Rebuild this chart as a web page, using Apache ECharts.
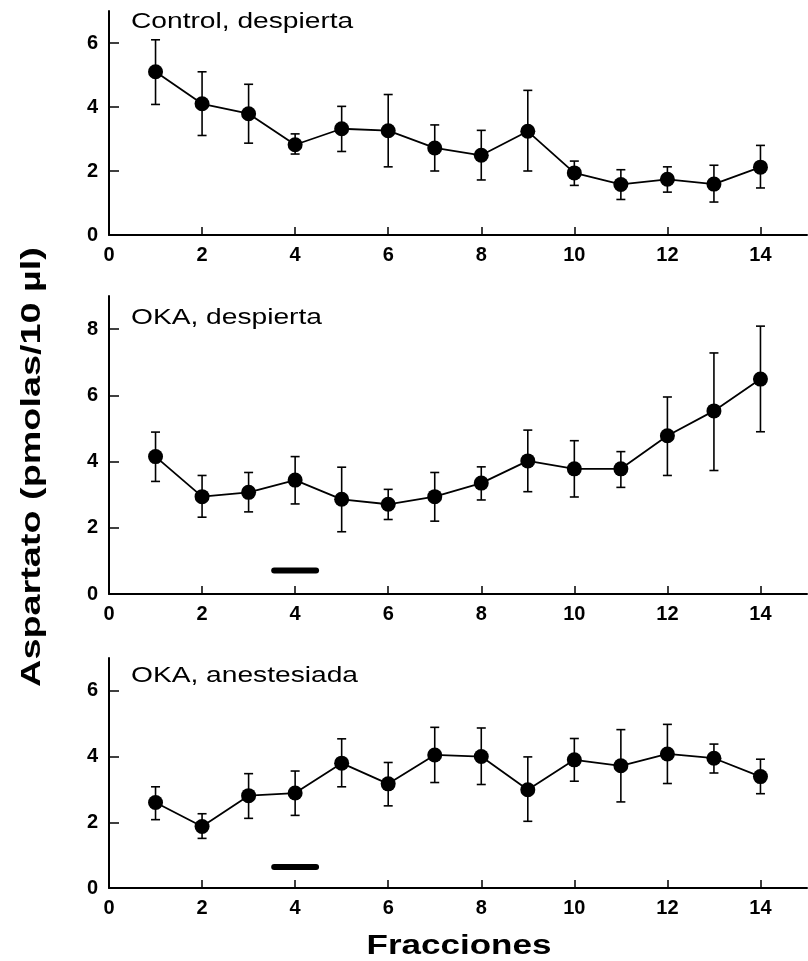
<!DOCTYPE html>
<html>
<head>
<meta charset="utf-8">
<script src="https://cdn.jsdelivr.net/npm/echarts@6/dist/echarts.min.js"></script>
<style>
  html, body { margin: 0; padding: 0; background: #fff; }
  #chart { width: 808px; height: 961px; }
</style>
</head>
<body>
<div id="chart"></div>
<script>
// fractions on the x axis
const fractions = [1, 2, 3, 4, 5, 6, 7, 8, 9, 10, 11, 12, 13, 14];
const xTicks = [0, 2, 4, 6, 8, 10, 12, 14];

// panel titles and y tick labels
const panelTitles = ['Control, despierta', 'OKA, despierta', 'OKA, anestesiada'];
const yTicksTop = [0, 2, 4, 6];
const yTicksMid = [0, 2, 4, 6, 8];
const yTicksBottom = [0, 2, 4, 6];

// Control, despierta
const controlMean = [5.10, 4.10, 3.79, 2.82, 3.32, 3.26, 2.72, 2.49, 3.24, 1.94, 1.58, 1.74, 1.59, 2.12];
const controlHigh = [6.10, 5.10, 4.71, 3.16, 4.02, 4.39, 3.44, 3.27, 4.52, 2.31, 2.04, 2.13, 2.18, 2.80];
const controlLow = [4.08, 3.11, 2.87, 2.53, 2.61, 2.13, 2.00, 1.72, 2.00, 1.55, 1.11, 1.34, 1.03, 1.47];

// OKA, despierta
const okaMean = [4.15, 2.94, 3.07, 3.44, 2.86, 2.71, 2.94, 3.35, 4.02, 3.78, 3.78, 4.78, 5.53, 6.49];
const okaHigh = [4.89, 3.58, 3.67, 4.15, 3.83, 3.16, 3.67, 3.84, 4.95, 4.63, 4.30, 5.95, 7.28, 8.09];
const okaLow = [3.40, 2.32, 2.48, 2.72, 1.88, 2.25, 2.20, 2.84, 3.09, 2.93, 3.22, 3.58, 3.73, 4.90];

// OKA, anestesiada
const anesMean = [2.60, 1.87, 2.81, 2.89, 3.80, 3.17, 4.05, 4.00, 2.99, 3.90, 3.72, 4.08, 3.95, 3.39];
const anesHigh = [3.08, 2.26, 3.48, 3.56, 4.54, 3.82, 4.89, 4.87, 3.99, 4.55, 4.82, 4.98, 4.38, 3.92];
const anesLow = [2.08, 1.51, 2.12, 2.21, 3.08, 2.50, 3.21, 3.15, 2.03, 3.25, 2.62, 3.18, 3.50, 2.87];

// OKA application bar (fraction range and height)
const stimulusRange = [3.55, 4.45];
const stimulusLevelMid = 0.71;
const stimulusLevelBottom = 0.64;

const FONT = 'Liberation Sans';

const grids = [
  { left: 109, right: 1, top: 11, height: 224 },
  { left: 109, right: 1, top: 296, height: 298 },
  { left: 109, right: 1, top: 658, height: 230 },
];

function xAxisFor(i) {
  return {
    gridIndex: i,
    type: 'value',
    min: 0,
    max: 15,
    axisLine: { lineStyle: { color: '#000', width: 2 } },
    axisTick: { inside: true, length: 8, customValues: xTicks, lineStyle: { color: '#000', width: 1.5 } },
    axisLabel: { customValues: xTicks, margin: 10, fontSize: 20, fontWeight: 'bold', color: '#000', fontFamily: FONT },
    splitLine: { show: false },
  };
}

function yAxisFor(i, max, ticks) {
  return {
    gridIndex: i,
    type: 'value',
    min: 0,
    max: max,
    axisLine: { show: true, lineStyle: { color: '#000', width: 2 } },
    axisTick: { show: true, inside: true, length: 10, customValues: ticks, lineStyle: { color: '#000', width: 1.5 } },
    axisLabel: { customValues: ticks, margin: 11, fontSize: 20, fontWeight: 'bold', color: '#000', fontFamily: FONT },
    splitLine: { show: false },
  };
}

function errorBars(i, low, high) {
  return {
    type: 'custom',
    xAxisIndex: i,
    yAxisIndex: i,
    z: 2,
    data: fractions.map((f, k) => [f, low[k], high[k]]),
    renderItem: (params, api) => {
      const top = api.coord([api.value(0), api.value(2)]);
      const bot = api.coord([api.value(0), api.value(1)]);
      const w = 4.5;
      const style = { stroke: '#000', lineWidth: 1.6 };
      return {
        type: 'group',
        children: [
          { type: 'line', shape: { x1: top[0], y1: top[1], x2: bot[0], y2: bot[1] }, style },
          { type: 'line', shape: { x1: top[0] - w, y1: top[1], x2: top[0] + w, y2: top[1] }, style },
          { type: 'line', shape: { x1: bot[0] - w, y1: bot[1], x2: bot[0] + w, y2: bot[1] }, style },
        ],
      };
    },
  };
}

function meanLine(i, mean) {
  return {
    type: 'line',
    xAxisIndex: i,
    yAxisIndex: i,
    z: 3,
    data: fractions.map((f, k) => [f, mean[k]]),
    symbol: 'circle',
    symbolSize: 15,
    itemStyle: { color: '#000' },
    lineStyle: { color: '#000', width: 1.8 },
    animation: false,
  };
}

function stimulusBar(i, level) {
  return {
    type: 'line',
    xAxisIndex: i,
    yAxisIndex: i,
    data: stimulusRange.map((x) => [x, level]),
    symbol: 'none',
    lineStyle: { color: '#000', width: 6, cap: 'round' },
    animation: false,
  };
}

function label(text, x, y, size, weight, scaleX, extra) {
  return Object.assign({
    type: 'text', x: x, y: y, scaleX: scaleX,
    style: {
      text: text, fontSize: size, fontFamily: FONT, fontWeight: weight,
      fill: '#000', verticalAlign: 'middle',
    },
  }, extra || {});
}

const option = {
  backgroundColor: '#fff',
  animation: false,
  grid: grids,
  xAxis: [xAxisFor(0), xAxisFor(1), xAxisFor(2)],
  yAxis: [yAxisFor(0, 7, yTicksTop), yAxisFor(1, 9, yTicksMid), yAxisFor(2, 7, yTicksBottom)],
  series: [
    errorBars(0, controlLow, controlHigh),
    meanLine(0, controlMean),
    errorBars(1, okaLow, okaHigh),
    meanLine(1, okaMean),
    stimulusBar(1, stimulusLevelMid),
    errorBars(2, anesLow, anesHigh),
    meanLine(2, anesMean),
    stimulusBar(2, stimulusLevelBottom),
  ],
  graphic: [
    label(panelTitles[0], 131, 22, 22, 'normal', 1.28),
    label(panelTitles[1], 131, 318, 22, 'normal', 1.28),
    label(panelTitles[2], 131, 676, 22, 'normal', 1.28),
    (function () {
      const t = label('Fracciones', 459, 946, 28, 'bold', 1.25);
      t.style.align = 'center';
      return t;
    })(),
    (function () {
      const t = label('Aspartato (pmolas/10 \u00b5l)', 32, 467, 28, 'bold', 1.35, { rotation: Math.PI / 2 });
      t.style.align = 'center';
      return t;
    })(),
  ],
};

const myChart = echarts.init(document.getElementById('chart'));
myChart.setOption(option);
</script>
</body>
</html>
